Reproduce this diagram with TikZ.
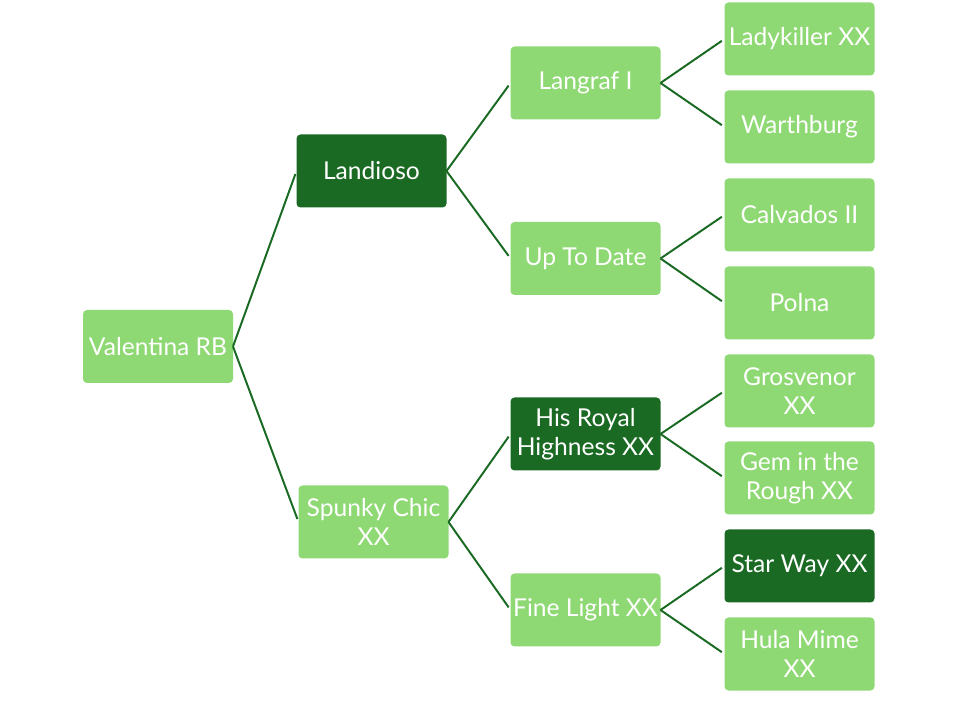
\documentclass[tikz,border=0pt]{standalone}
\usepackage{fontspec}
\setmainfont{Lato}
\usepackage{tikz}
\definecolor{leafgreen}{RGB}{143,217,116}
\definecolor{darkgreen}{RGB}{27,106,36}

\begin{document}
\begin{tikzpicture}[every node/.style={minimum width=3.75cm, minimum height=1.825cm, align=center, inner sep=0pt, outer sep=0pt, rounded corners=0.1cm, text=white, font=\fontsize{17.5}{21}\selectfont},
light/.style={fill=leafgreen},
dark/.style={fill=darkgreen},
link/.style={draw=darkgreen, line width=1.4pt, shorten >=0.08cm}]
\useasboundingbox (0,0) rectangle (24,17.5);

\node[light] (valentina) at (3.95,8.8375) {Valentina RB};

\node[dark] (landioso) at (9.2875,13.225) {Landioso};
\node[light] (spunky) at (9.3375,4.45) {Spunky Chic\\XX};

\node[light] (langraf) at (14.6375,15.425) {Langraf I};
\node[light] (uptodate) at (14.6375,11.0375) {Up To Date};
\node[dark] (royal) at (14.6375,6.65) {His Royal\\Highness XX};
\node[light] (finelight) at (14.6375,2.25) {Fine Light XX};

\node[light] (ladykiller) at (19.9875,16.525) {Ladykiller XX};
\node[light] (warthburg) at (19.9875,14.325) {Warthburg};
\node[light] (calvados) at (19.9875,12.125) {Calvados II};
\node[light] (polna) at (19.9875,9.925) {Polna};
\node[light] (grosvenor) at (19.9875,7.725) {Grosvenor\\XX};
\node[light] (gem) at (19.9875,5.55) {Gem in the\\Rough XX};
\node[dark] (starway) at (19.9875,3.35) {Star Way XX};
\node[light] (hula) at (19.9875,1.15) {Hula Mime\\XX};

\draw[link] (valentina.east) -- (landioso.west);
\draw[link] (valentina.east) -- (spunky.west);
\draw[link] (landioso.east) -- (langraf.west);
\draw[link] (landioso.east) -- (uptodate.west);
\draw[link] (spunky.east) -- (royal.west);
\draw[link] (spunky.east) -- (finelight.west);
\draw[link] (langraf.east) -- (ladykiller.west);
\draw[link] (langraf.east) -- (warthburg.west);
\draw[link] (uptodate.east) -- (calvados.west);
\draw[link] (uptodate.east) -- (polna.west);
\draw[link] (royal.east) -- (grosvenor.west);
\draw[link] (royal.east) -- (gem.west);
\draw[link] (finelight.east) -- (starway.west);
\draw[link] (finelight.east) -- (hula.west);
\end{tikzpicture}
\end{document}
